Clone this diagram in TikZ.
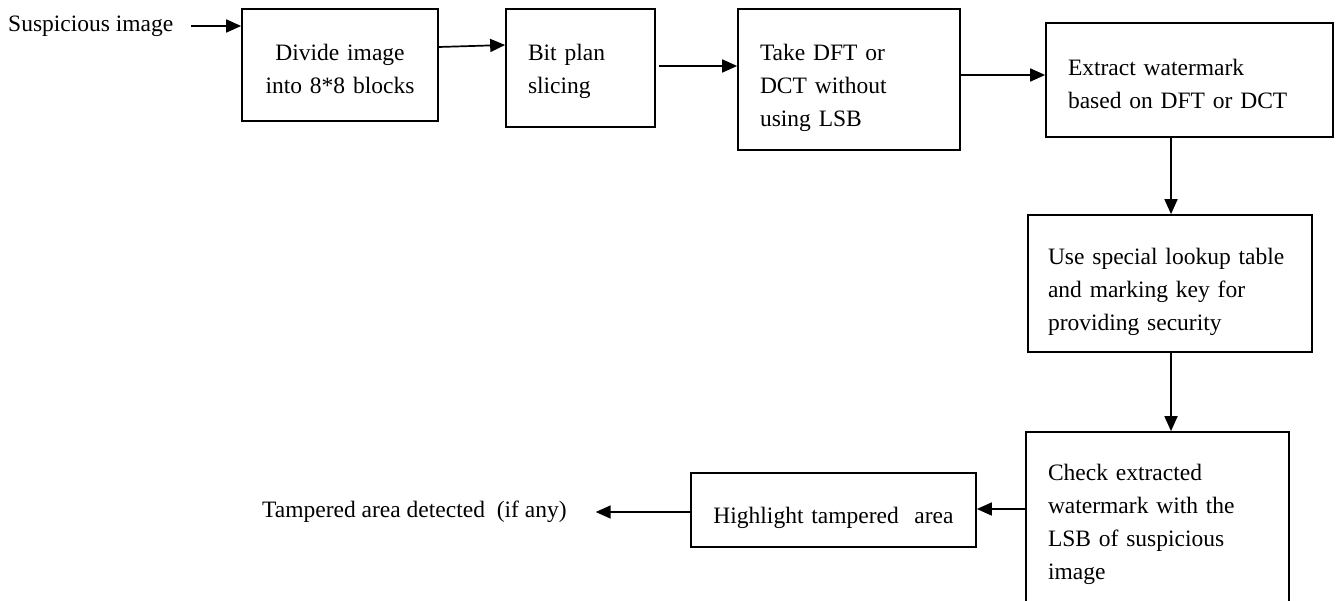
\documentclass[tikz,border=0pt]{standalone}
\usepackage{fontspec}
\setmainfont{Liberation Serif}
\usetikzlibrary{arrows.meta}
\newcommand\diafont{\fontsize{23.5}{33}\selectfont}
\begin{document}
\begin{tikzpicture}[x=1pt,y=-1pt,
  box/.style={draw, line width=1.7pt, inner sep=0pt},
  txt/.style={inner xsep=0pt, inner ysep=0pt, font=\diafont},
  arr/.style={-{Triangle[length=15pt,width=13pt]}, line width=1.7pt},
  lbl/.style={inner sep=0pt, font=\diafont, anchor=west}]
\clip (0,0) rectangle (1337,601);
% free texts
\node[lbl] (s) at (8,26) {Suspicious image};
\node[lbl] (t) at (262,512) {Tampered area detected\ \ (if any)};
% boxes
\node[box, minimum width=196pt, minimum height=112pt] (b1) at (340,65) {};
\node[box, minimum width=149pt, minimum height=118pt] (b2) at (580.5,68) {};
\node[box, minimum width=222pt, minimum height=141pt] (b3) at (849,79.5) {};
\node[box, minimum width=287pt, minimum height=114pt] (b4) at (1189.5,80) {};
\node[box, minimum width=284pt, minimum height=137pt] (b5) at (1170,283.5) {};
\node[box, minimum width=263pt, minimum height=180pt] (b6) at (1157.5,522) {};
\node[box, minimum width=285pt, minimum height=74pt] (b7) at (833.5,510) {};
% box texts
\node[txt, text width=152pt, align=center, yshift=-4pt] (t1) at (b1.center) {Divide image\\into 8*8 blocks};
\node[txt, text width=105pt, align=left, yshift=-3pt] (t2) at (b2.center) {Bit plan\\slicing};
\node[txt, text width=178pt, align=left, yshift=-8pt] (t3) at (b3.center) {Take DFT or\\DCT without\\using LSB};
\node[txt, text width=243pt, align=left, yshift=-3.5pt] (t4) at (b4.center) {Extract watermark\\based on DFT or DCT};
\node[txt, text width=244pt, align=left, yshift=-8pt] (t5) at (b5.center) {Use special lookup table\\and marking key for\\providing security};
\node[txt, text width=219pt, align=left, yshift=-2pt] (t6) at (b6.center) {Check extracted\\watermark with the\\LSB of suspicious\\image};
\node[txt, text width=245pt, align=center, yshift=-8pt] (t7) at (b7.center) {Highlight tampered\ \ area};
% connectors
\coordinate (vx) at (1171,0);
\draw[arr] ([xshift=17pt]s.east) -- (b1.west |- s.east);
\draw[arr] (b1.east |- 0,47) -- (b2.west |- 0,45);
\draw[arr] ([xshift=3pt]b2.east |- 0,66) -- (b3.west |- 0,66);
\draw[arr] (b3.east |- 0,75) -- (b4.west |- 0,75);
\draw[arr] (b4.south -| vx) -- (b5.north -| vx);
\draw[arr] (b5.south -| vx) -- (b6.north -| vx);
\draw[arr] (b6.west |- 0,509) -- (b7.east |- 0,509);
\draw[arr] (b7.west |- t.east) -- ([xshift=29pt]t.east);
\end{tikzpicture}
\end{document}
